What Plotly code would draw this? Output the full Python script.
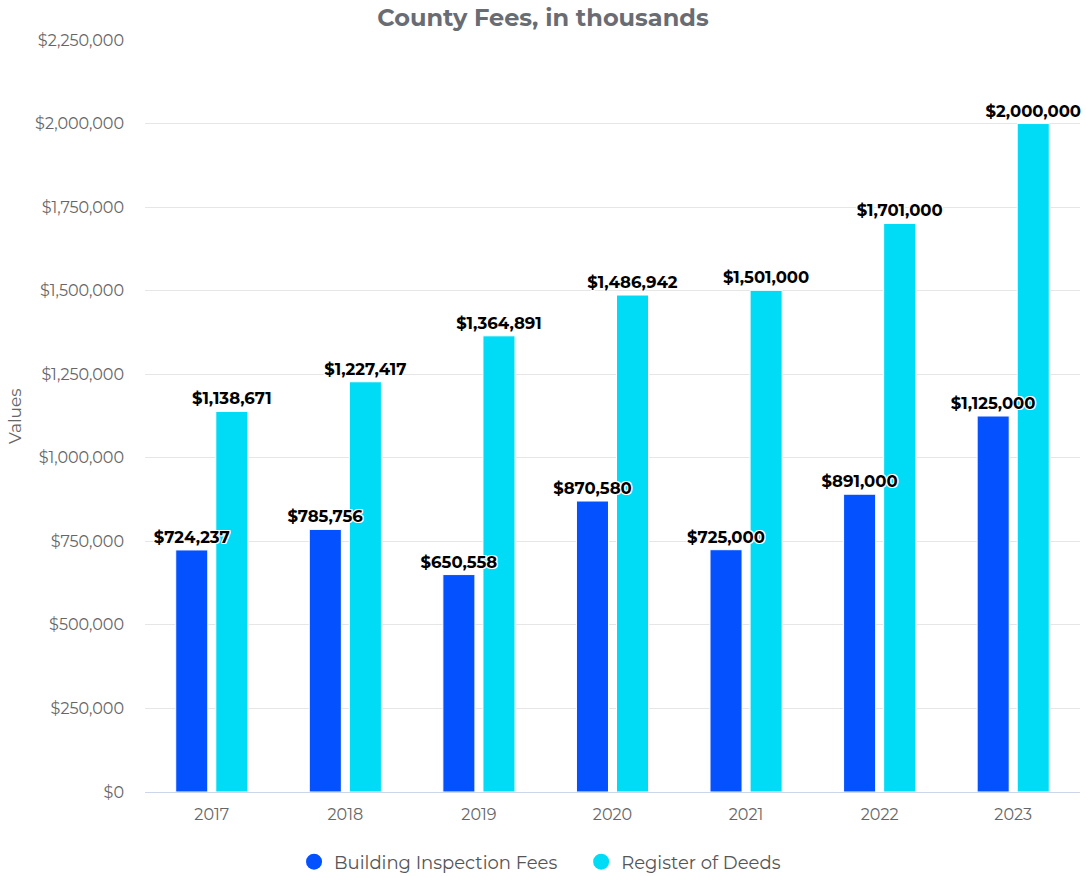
import plotly.graph_objects as go

years = ["2017", "2018", "2019", "2020", "2021", "2022", "2023"]
building_fees = [724237, 785756, 650558, 870580, 725000, 891000, 1125000]
register_deeds = [1138671, 1227417, 1364891, 1486942, 1501000, 1701000, 2000000]
series_names = ["Building Inspection Fees", "Register of Deeds"]
colors = ["#0451FF", "#00DCF6"]
ytick_vals = [0, 250000, 500000, 750000, 1000000, 1250000, 1500000, 1750000, 2000000, 2250000]
ytick_text = ["${:,}".format(v) for v in ytick_vals]

FONT = "Montserrat, 'Open Sans', 'Noto Sans', sans-serif"
shadow = "1px 1px 0 #fff, -1px -1px 0 #fff, 1px -1px 0 #fff, -1px 1px 0 #fff, 0 1px 0 #fff, 0 -1px 0 #fff, 1px 0 0 #fff, -1px 0 0 #fff"

series_vals = [building_fees, register_deeds]
groups = ["a", "b"]
NB = "\u00a0"

fig = go.Figure()
# bars
for name, vals, col, g in zip(series_names, series_vals, colors, groups):
    fig.add_trace(go.Bar(
        x=years, y=vals, name=name, offsetgroup=g,
        marker=dict(color=col, line=dict(color="#ffffff", width=1)),
        showlegend=False, hoverinfo="skip",
    ))
# labels drawn on top of all bars
for name, vals, g in zip(series_names, series_vals, groups):
    fig.add_trace(go.Bar(
        x=years, y=vals, offsetgroup=g,
        marker=dict(color="rgba(0,0,0,0)", line=dict(width=0)),
        texttemplate="$%{y:,}", textposition="outside", cliponaxis=False, constraintext="none",
        textfont=dict(family=FONT, size=16.5, color="#000000", weight="bold", shadow=shadow),
        showlegend=False, hoverinfo="skip",
    ))
# legend entries with circle markers
for i, (name, col) in enumerate(zip(series_names, colors)):
    label = name + (NB * 4 if i == 0 else "")
    fig.add_trace(go.Scatter(
        x=[None], y=[None], mode="markers", name=label,
        marker=dict(color=col, size=17, symbol="circle"), showlegend=True,
    ))

H = 876
fig.update_layout(
    width=1086, height=H,
    paper_bgcolor="#ffffff", plot_bgcolor="#ffffff",
    font=dict(family=FONT, color="#666666", size=16),
    title=dict(text="<b>County Fees, in thousands</b>", x=0.5, xanchor="center", y=1 - 18 / H, yanchor="middle",
               font=dict(family=FONT, size=24, color="#696d73")),
    margin=dict(l=145, r=6, t=40, b=84, autoexpand=False),
    barmode="group", bargap=0.40, bargroupgap=0.2,
    legend=dict(orientation="h", x=0.4225, xanchor="center", y=-0.093, yanchor="middle",
                font=dict(family=FONT, size=18, color="#555555"), itemwidth=30),
    xaxis=dict(showgrid=False, showline=True, linecolor="#ccd6eb", linewidth=1, ticks="",
               automargin=False, ticklabelstandoff=8,
               tickfont=dict(family=FONT, size=16, color="#666666")),
    yaxis=dict(range=[0, 2250000], tickvals=ytick_vals, ticktext=ytick_text,
               showgrid=True, gridcolor="#e6e6e6", zeroline=False, ticks="", automargin=False,
               ticklabelstandoff=20,
               tickfont=dict(family=FONT, size=16, color="#666666")),
    annotations=[dict(text="Values", xref="paper", yref="paper", x=(15 - 145) / 935, y=0.5,
                      xanchor="center", yanchor="middle", textangle=-90, showarrow=False,
                      font=dict(family=FONT, size=17, color="#666666"))],
)

fig.write_html("out.html", config={"displayModeBar": False},
               post_script="document.body.style.margin='0';")
